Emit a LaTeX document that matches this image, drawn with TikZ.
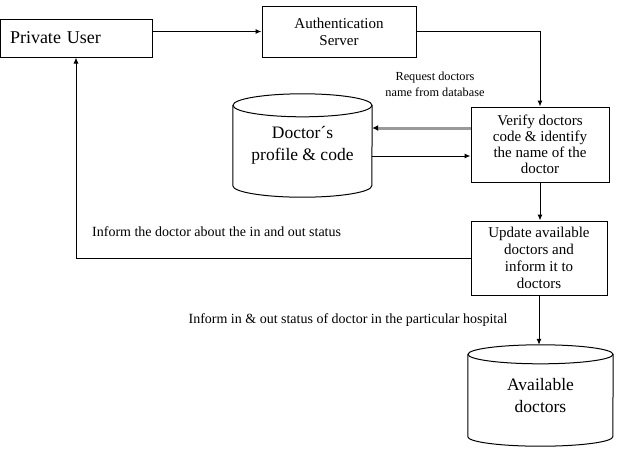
\documentclass[tikz,border=0pt]{standalone}
\usepackage{fontspec}
\setmainfont{Liberation Serif}
\newfontfamily\tnr{Liberation Serif}
\usetikzlibrary{arrows.meta,calc}
\begin{document}
\begin{tikzpicture}[x=1pt,y=-1pt,
  box/.style={draw, line width=1pt, align=center, inner sep=0pt},
  cyl/.style={inner sep=0pt, align=center},
  arr/.style={line width=1pt, -{Latex[length=6pt,width=5pt]}},
  greyarr/.style={draw=gray!80, line width=3pt, -{Latex[length=6pt,width=6pt,color=black]}},
  lbl/.style={inner sep=0pt, align=center},
  cylline/.style={line width=1pt}
]
\useasboundingbox (0,0) rectangle (618,456);

\node[box, minimum width=152pt, minimum height=38pt, text width=132pt, align=left,
      font=\tnr\fontsize{18}{20}\selectfont] (pu) at (76,38) {Private User};
\node[box, minimum width=154pt, minimum height=51pt,
      font=\tnr\fontsize{15}{17}\selectfont] (auth) at (339,31.5) {Authentication\\Server};
\node[box, minimum width=138pt, minimum height=75pt,
      font=\tnr\fontsize{15}{16}\selectfont] (verify) at (540,144.5) {Verify doctors\\code \& identify\\the name of the\\doctor};
\node[box, minimum width=136pt, minimum height=74pt,
      font=\tnr\fontsize{15}{17}\selectfont] (update) at (539,258) {Update available\\doctors and\\inform it to\\doctors};

% Doctor's profile cylinder
\node[cyl, minimum width=139pt, minimum height=103pt,
      font=\tnr\fontsize{17.5}{22}\selectfont] (doc) at (302.5,145.5) {Doctor´s\\profile \& code};
\draw[cylline] ([yshift=-11.5pt]doc.north) ellipse [x radius=69.5pt, y radius=11.5pt];
\draw[cylline] ([yshift=-11.5pt]doc.north west) -- ([yshift=11.5pt]doc.south west)
  arc[start angle=180, end angle=360, x radius=69.5pt, y radius=11.5pt]
  -- ([yshift=-11.5pt]doc.north east);

% Available doctors cylinder
\node[cyl, minimum width=145pt, minimum height=101pt,
      font=\tnr\fontsize{17.5}{22}\selectfont] (avail) at (540.5,395.5) {Available\\doctors};
\draw[cylline] ([yshift=-9.5pt]avail.north) ellipse [x radius=72.5pt, y radius=9.5pt];
\draw[cylline] ([yshift=-9.5pt]avail.north west) -- ([yshift=9.5pt]avail.south west)
  arc[start angle=180, end angle=360, x radius=72.5pt, y radius=9.5pt]
  -- ([yshift=-9.5pt]avail.north east);

% connectors
\draw[arr] (auth.west -| pu.east) -- (auth.west);
\draw[arr] (auth.east) -| (verify.north);
\draw[greyarr] ([yshift=16.5pt]verify.west) -- ([yshift=16.5pt]verify.west -| doc.east);
\draw[arr] ([yshift=-11.5pt]verify.west -| doc.east) -- ([yshift=-11.5pt]verify.west);
\draw[arr] (verify.south) -- (verify.south |- update.north);
\draw[arr] (update.west) -| (pu.south);
\draw[arr] (update.south) -- (update.south |- avail.north);

% labels
\node[lbl, font=\tnr\fontsize{12.3}{16}\selectfont] (req) at (435,84) {Request doctors\\name from database};
\node[lbl, anchor=west, font=\tnr\fontsize{14}{16}\selectfont] (inf1) at (92,232) {Inform the doctor about the in and out status};
\node[lbl, font=\tnr\fontsize{14}{16}\selectfont] (inf2) at (348,320) {Inform in \& out status of doctor in the particular hospital};
\end{tikzpicture}
\end{document}
